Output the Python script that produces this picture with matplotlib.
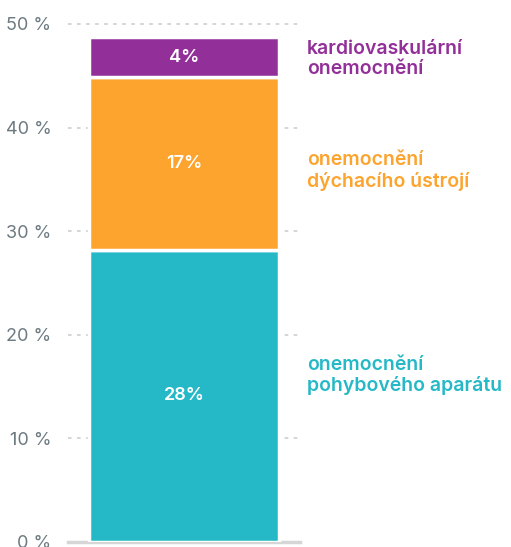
import matplotlib
matplotlib.use("Agg")
import matplotlib.pyplot as plt

plt.rcParams['font.family'] = ['Inter', 'DejaVu Sans']

# data (share of the total, %)
categories = ["onemocnění\npohybového aparátu",
              "onemocnění\ndýchacího ústrojí",
              "kardiovaskulární\nonemocnění"]
values = [28.2, 16.7, 3.8]
value_labels = ["28%", "17%", "4%"]
colors = ["#25b8c6", "#fca42d", "#922f98"]
yticks = [0, 10, 20, 30, 40, 50]
ytick_labels = ["0 %", "10 %", "20 %", "30 %", "40 %", "50 %"]

fig = plt.figure(figsize=(5.11, 5.47), dpi=100)
ax = fig.add_axes([68/511, 1 - 542/547, 232/511, (542 - 24)/547])

bottom = 0
for v, lab, c in zip(values, value_labels, colors):
    ax.bar(0.5, v, bottom=bottom, width=0.82, color=c,
           edgecolor="white", linewidth=2.5, zorder=3)
    ax.text(0.5, bottom + v/2, lab, ha="center", va="center",
            color="white", fontsize=13, fontweight="semibold", zorder=4)
    bottom += v

# category labels to the right of the bar
label_y = [16.1, 35.8, 46.6]
for name, y, c in zip(categories, label_y, colors):
    ax.text(1.03, y, name, ha="left", va="center", color=c,
            fontsize=14, fontweight="semibold", linespacing=1.15,
            transform=ax.transData, clip_on=False)

ax.set_xlim(0, 1)
ax.set_ylim(0, 50)
ax.set_yticks(yticks)
ax.set_yticklabels(ytick_labels)
ax.set_xticks([])

for y in yticks[1:]:
    ax.axhline(y, color="#cfd3d6", linewidth=1.3, linestyle=(0, (2, 3)),
               zorder=1, clip_on=False)
ax.axhline(0, color="#d6d6d6", linewidth=2.5, zorder=2, clip_on=False)

for s in ax.spines.values():
    s.set_visible(False)
ax.tick_params(axis="y", length=0, pad=12, labelsize=13, labelcolor="#6c7a80")

fig.savefig("out.png", dpi=100)
